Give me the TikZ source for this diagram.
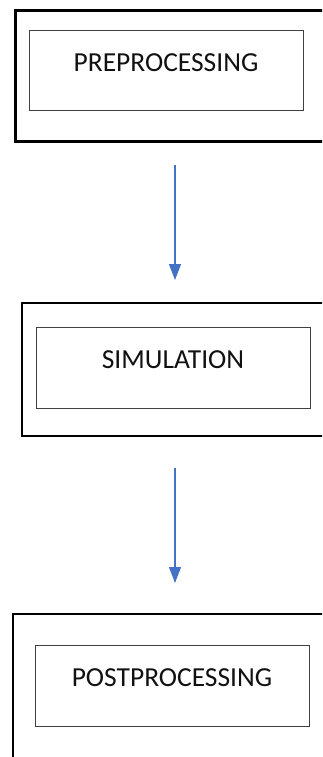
\documentclass[tikz,border=0pt]{standalone}
\usepackage{fontspec}
\setmainfont{Carlito}
\usetikzlibrary{arrows.meta}
\definecolor{flowblue}{HTML}{4472C4}
\definecolor{textdark}{HTML}{111111}
\definecolor{innerline}{HTML}{404040}
\tikzset{
  frame/.style={draw=black, line width=2.6pt, inner sep=0pt, outer sep=0pt,
    anchor=north west, minimum width=330pt},
  stage/.style={draw=innerline, line width=1pt, inner sep=0pt, outer sep=0pt,
    minimum width=274pt, minimum height=80pt, text=textdark,
    font=\fontsize{27.5}{30}\selectfont, text height=18pt, text depth=17pt},
  flow/.style={draw=flowblue, line width=1.1pt,
    -{Triangle[length=16pt,width=12pt]}}
}
\begin{document}
\begin{tikzpicture}[x=1pt,y=-1pt]
  \useasboundingbox (0,0) rectangle (322,757);
  \clip (0,0) rectangle (322,757);
  \fill[white] (0,0) rectangle (322,757);

  % outer frames
  \node[frame, minimum height=131pt] (outer1) at (15.3,10.3) {};
  \node[frame, minimum height=133pt] (outer2) at (22,303) {};
  \node[frame, minimum height=144.2pt] (outer3) at (13,614) {};

  % stage boxes
  \node[stage] (pre)  at (166,71)    {PREPROCESSING};
  \node[stage, minimum height=81pt] (sim)  at (173,367.5) {SIMULATION};
  \node[stage, minimum height=81pt] (post) at (172,685.5) {POSTPROCESSING};

  % connectors
  \coordinate (axis) at (175,0);
  \draw[flow, shorten <=24pt, shorten >=23pt] (outer1.south -| axis) -- (outer2.north -| axis);
  \draw[flow, shorten <=32pt, shorten >=31pt] (outer2.south -| axis) -- (outer3.north -| axis);
\end{tikzpicture}
\end{document}
